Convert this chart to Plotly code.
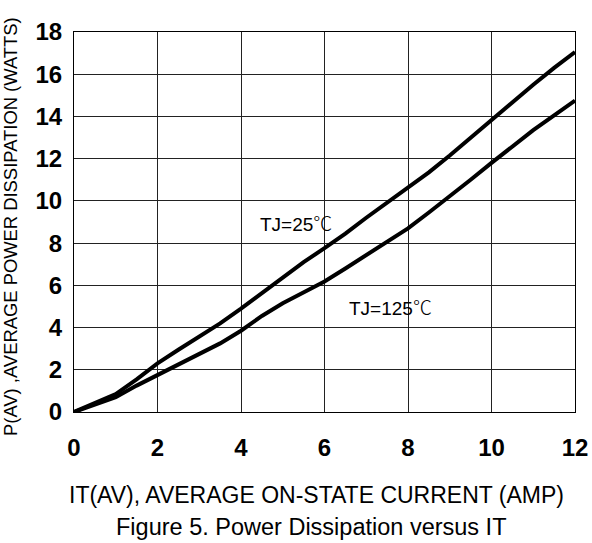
import plotly.graph_objects as go

current = [0, 0.5, 1, 1.5, 2, 2.5, 3, 3.5, 4, 4.5, 5, 5.5, 6, 6.5, 7, 7.5, 8,
           8.5, 9, 9.5, 10, 10.5, 11, 11.5, 12]
p_tj25 = [0, 0.45, 0.85, 1.55, 2.3, 2.95, 3.55, 4.2, 4.9, 5.65, 6.35, 7.1, 7.76,
          8.45, 9.2, 9.9, 10.6, 11.35, 12.15, 13.0, 13.85, 14.7, 15.5, 16.3, 17.05]
p_tj125 = [0, 0.35, 0.7, 1.25, 1.75, 2.2, 2.7, 3.25, 3.85, 4.55, 5.15, 5.65, 6.18,
           6.8, 7.45, 8.05, 8.7, 9.45, 10.2, 11.0, 11.8, 12.6, 13.35, 14.05, 14.75]

x_ticks = [0, 2, 4, 6, 8, 10, 12]
y_ticks = [0, 2, 4, 6, 8, 10, 12, 14, 16, 18]

fig = go.Figure()
fig.add_trace(go.Scatter(x=current, y=p_tj25, mode="lines",
                         line=dict(color="black", width=4), name="TJ=25℃"))
fig.add_trace(go.Scatter(x=current, y=p_tj125, mode="lines",
                         line=dict(color="black", width=4), name="TJ=125℃"))

tickfont = dict(family="Liberation Sans Narrow, Liberation Sans", size=24,
                color="black", weight="bold")
fig.update_xaxes(range=[0, 12], tickvals=x_ticks, showgrid=True, gridcolor="#222",
                 gridwidth=1, showline=True, linecolor="black", linewidth=1,
                 mirror=True, zeroline=False, tickfont=tickfont,
                 ticklabelstandoff=14, automargin=False)
fig.update_yaxes(range=[0, 18], tickvals=y_ticks, showgrid=True, gridcolor="#222",
                 gridwidth=1, showline=True, linecolor="black", linewidth=1,
                 mirror=True, zeroline=False, tickfont=tickfont,
                 ticklabelstandoff=6, automargin=False)

deg = '<span style="font-family:Noto Sans CJK SC;font-weight:300">℃</span>'
fig.add_annotation(x=5.32, y=9.0, text="TJ=25" + deg, showarrow=False,
                   font=dict(family="Liberation Sans", size=19, color="black"))
fig.add_annotation(x=7.57, y=5.0, text="TJ=125" + deg, showarrow=False,
                   font=dict(family="Liberation Sans", size=19, color="black"))
fig.add_annotation(xref="paper", yref="paper", x=0.485, y=-0.218, yanchor="middle",
                   text="IT(AV), AVERAGE ON-STATE CURRENT (AMP)", showarrow=False,
                   font=dict(family="Liberation Sans", size=23, color="black"))
fig.add_annotation(xref="paper", yref="paper", x=0.475, y=-0.303, yanchor="middle",
                   text="Figure 5. Power Dissipation versus IT", showarrow=False,
                   font=dict(family="Liberation Sans", size=23.5, color="black"))
fig.add_annotation(xref="paper", yref="paper", x=-0.127, y=0.488, xanchor="center",
                   text="P(AV) ,AVERAGE POWER DISSIPATION (WATTS)", showarrow=False,
                   textangle=-90,
                   font=dict(family="Liberation Sans", size=18.4, color="black"))

fig.update_layout(width=592, height=543, showlegend=False,
                  margin=dict(l=74, r=17, t=32, b=131),
                  plot_bgcolor="white", paper_bgcolor="white")
fig.write_html("out.html", config={"displayModeBar": False},
               post_script="document.body.style.margin='0';")
